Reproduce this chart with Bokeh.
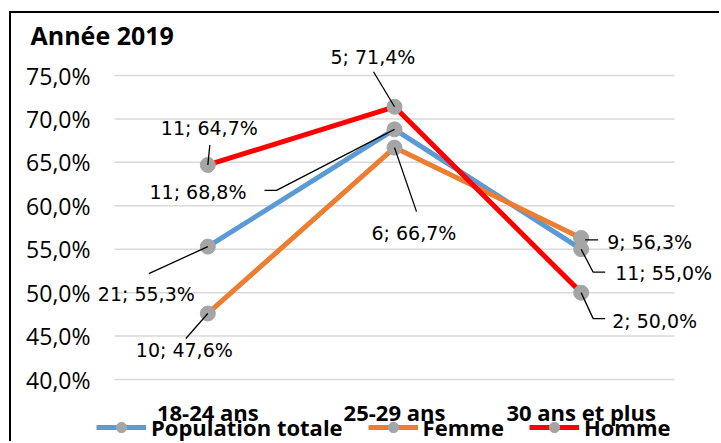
from bokeh.plotting import figure
from bokeh.models import (ColumnDataSource, Range1d, FixedTicker,
                          CustomJSTickFormatter, LabelSet, Legend, LegendItem)
from bokeh.core.properties import value
from bokeh.embed import file_html
from bokeh.resources import INLINE

# ---------------- data ----------------
categories = ["18-24 ans", "25-29 ans", "30 ans et plus"]
series_names = ["Population totale", "Femme", "Homme"]
pop_pct = [55.3, 68.8, 55.0]
pop_n = [21, 11, 11]
femme_pct = [47.6, 66.7, 56.3]
femme_n = [10, 6, 9]
homme_pct = [64.7, 71.4, 50.0]
homme_n = [11, 5, 2]
y_ticks = [40, 45, 50, 55, 60, 65, 70, 75]
title_text = "Année 2019"

# ---------------- styles / positions ----------------
colors = ["#5B9BD5", "#ED7D31", "#FF0000"]
marker_color = "#A5A5A5"
grid_color = "#D9D9D9"

W, H = 710, 430                 # canvas
FL, FT = 85, 35                 # borders (px)
px_per_cat = 560 / 3.0          # px per category band
px_per_pct = 304 / 35.0         # px per percentage point
frame_w = W - FL
frame_h = H - FT
x_start = -18 / px_per_cat
x_end = x_start + frame_w / px_per_cat
y_start = 40 - 64 / px_per_pct
y_end = y_start + frame_h / px_per_pct

# label offsets (px; dx right, dy down) from each point
label_dx = [[-110, -245, 34], [-72, -23, 26], [-47, -64, 31]]
label_dy = [[47, 63, 24], [37, 85, 4], [-37, -50, 28]]
# leader line paths (px offsets from each point)
leaders = [
    [[(0, 0), (-59, 27)], [(0, 0), (-118, 61), (-130, 61)], [(0, 0), (12, 23), (24, 23)]],
    [[(0, 0), (-22, 25)], [(0, 0), (22, 64)], [(4, 2), (17, 2)]],
    [[(0, 0), (2, -20)], [(0, 0), (-21, -35)], [(0, 0), (12, 26), (24, 26)]],
]
cat_label_dy = 41               # category label baseline below the lowest tick (px)

xpos = [i + 0.5 for i in range(len(categories))]

p = figure(x_range=Range1d(x_start, x_end), y_range=Range1d(y_start, y_end),
           width=W, height=H, output_backend="svg", toolbar_location=None,
           x_axis_location=None,
           min_border_left=FL, min_border_right=0, min_border_bottom=0, min_border_top=FT,
           styles={"margin-left": "9px", "margin-top": "11px",
                   "border-left": "2px solid black", "border-top": "2px solid black"})
p.outline_line_color = None
p.background_fill_color = "white"
p.border_fill_color = "white"

# title
p.title.text = title_text
p.title.align = "left"
p.title.offset = -66
p.title.standoff = -6
p.title.text_font = "Open Sans"
p.title.text_font_style = "bold"
p.title.text_font_size = "25px"
p.title.text_color = "black"

# y axis
p.yaxis.ticker = FixedTicker(ticks=y_ticks)
p.yaxis.formatter = CustomJSTickFormatter(code="return tick.toFixed(1).replace('.', ',') + '%';")
p.yaxis.axis_line_color = None
p.yaxis.major_tick_line_color = None
p.yaxis.minor_tick_line_color = None
p.yaxis.major_label_standoff = 0
p.yaxis.major_label_text_font = "Open Sans"
p.yaxis.major_label_text_font_size = "23px"
p.yaxis.major_label_text_color = "black"

p.xgrid.grid_line_color = None
p.ygrid.grid_line_color = None

# horizontal gridlines across the category bands
n_cat = len(categories)
p.segment(x0=[0] * len(y_ticks), x1=[n_cat] * len(y_ticks), y0=y_ticks, y1=y_ticks,
          line_color=grid_color, line_width=1.5)

all_pct = [pop_pct, femme_pct, homme_pct]
all_n = [pop_n, femme_n, homme_n]

items = []
for s, name in enumerate(series_names):
    src = ColumnDataSource(dict(x=xpos, y=all_pct[s]))
    lr = p.line("x", "y", source=src, line_color=colors[s], line_width=5)
    sr = p.scatter("x", "y", source=src, size=15, fill_color=marker_color,
                   line_color=marker_color, marker="circle")
    items.append(LegendItem(label=name, renderers=[lr, sr]))

# leader lines
lx, ly = [], []
for s in range(3):
    for i in range(3):
        path = leaders[s][i]
        lx.append([xpos[i] + dx / px_per_cat for dx, dy in path])
        ly.append([all_pct[s][i] - dy / px_per_pct for dx, dy in path])
p.multi_line(lx, ly, line_color="black", line_width=1.3)

# data labels
for s in range(3):
    texts = ["%d;  %s%%" % (n, ("%.1f" % v).replace(".", ",")) for n, v in zip(all_n[s], all_pct[s])]
    src = ColumnDataSource(dict(x=xpos, y=all_pct[s], text=texts,
                                xo=label_dx[s], yo=[-d for d in label_dy[s]]))
    ls = LabelSet(x="x", y="y", text="text", source=src, x_offset="xo", y_offset="yo",
                  text_align="left", text_baseline="middle",
                  text_font=value("DejaVu Sans"), text_font_size=value("19px"),
                  text_color="black")
    p.add_layout(ls)

# category labels (x axis)
cat_src = ColumnDataSource(dict(x=xpos, y=[y_ticks[0]] * n_cat, text=categories))
p.add_layout(LabelSet(x="x", y="y", text="text", source=cat_src, y_offset=-cat_label_dy,
                      text_align="center", text_baseline="alphabetic",
                      text_font=value("Open Sans"), text_font_style="bold",
                      text_font_size=value("22px"), text_color="black"))

legend = Legend(items=items, location=(0, 1), orientation="horizontal",
                glyph_width=50, glyph_height=26, label_standoff=5, spacing=25,
                padding=0, margin=0, border_line_color=None, background_fill_alpha=0,
                label_text_font="Open Sans", label_text_font_style="bold",
                label_text_font_size="22px", label_text_color="black", label_height=26)
p.add_layout(legend)

open("out.html", "w").write(file_html(p, INLINE))
